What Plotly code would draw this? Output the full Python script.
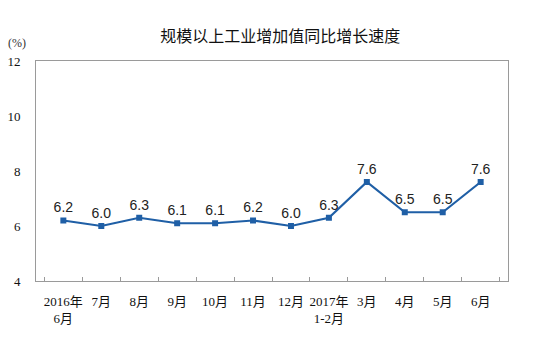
import plotly.graph_objects as go

# Monthly year-on-year growth of industrial value added (%)
months = ["2016年<br>6月", "7月", "8月", "9月", "10月", "11月", "12月",
          "2017年<br>1-2月", "3月", "4月", "5月", "6月"]
growth = [6.2, 6.0, 6.3, 6.1, 6.1, 6.2, 6.0, 6.3, 7.6, 6.5, 6.5, 7.6]
y_ticks = [4, 6, 8, 10, 12]

line_color = "#1F5FA6"
axis_color = "#9A9A9A"

fig = go.Figure()
fig.add_trace(go.Scatter(
    x=months,
    y=growth,
    mode="lines+markers+text",
    line=dict(color=line_color, width=2.2),
    marker=dict(symbol="square", size=6, color=line_color),
    text=[f"{v:.1f}" for v in growth],
    textposition="top center",
    textfont=dict(family="Liberation Sans, Arial, sans-serif", size=14, color="#222222"),
    cliponaxis=False,
    showlegend=False,
))

fig.update_layout(
    width=536,
    height=342,
    margin=dict(l=36, r=28, t=61, b=61),
    paper_bgcolor="white",
    plot_bgcolor="white",
    title=dict(
        text="规模以上工业增加值同比增长速度",
        x=0.523, xanchor="center",
        y=0.895, yanchor="middle",
        font=dict(family="Noto Sans CJK SC, sans-serif", size=16, color="#111111"),
    ),
    xaxis=dict(
        type="category",
        automargin=False,
        showline=True, linecolor=axis_color, linewidth=1, mirror=True,
        ticks="inside", ticklen=4, tickcolor=axis_color,
        tickson="boundaries",
        tickangle=0,
        ticklabelstandoff=8,
        showgrid=False,
        tickfont=dict(family="Liberation Serif, Noto Sans CJK SC, serif", size=13, color="#111111"),
    ),
    yaxis=dict(
        range=[4, 12],
        automargin=False,
        tickvals=y_ticks,
        ticktext=[str(t) for t in y_ticks],
        showline=True, linecolor=axis_color, linewidth=1, mirror=True,
        ticks="", showgrid=False, zeroline=False,
        ticklabelstandoff=12,
        tickfont=dict(family="Liberation Serif, serif", size=13, color="#111111"),
    ),
    annotations=[dict(
        text="(%)", xref="paper", yref="paper",
        x=-0.04, y=1.08, xanchor="center", yanchor="middle",
        showarrow=False,
        font=dict(family="Liberation Serif, serif", size=12, color="#333333"),
    )],
)

fig.write_html("out.html")
